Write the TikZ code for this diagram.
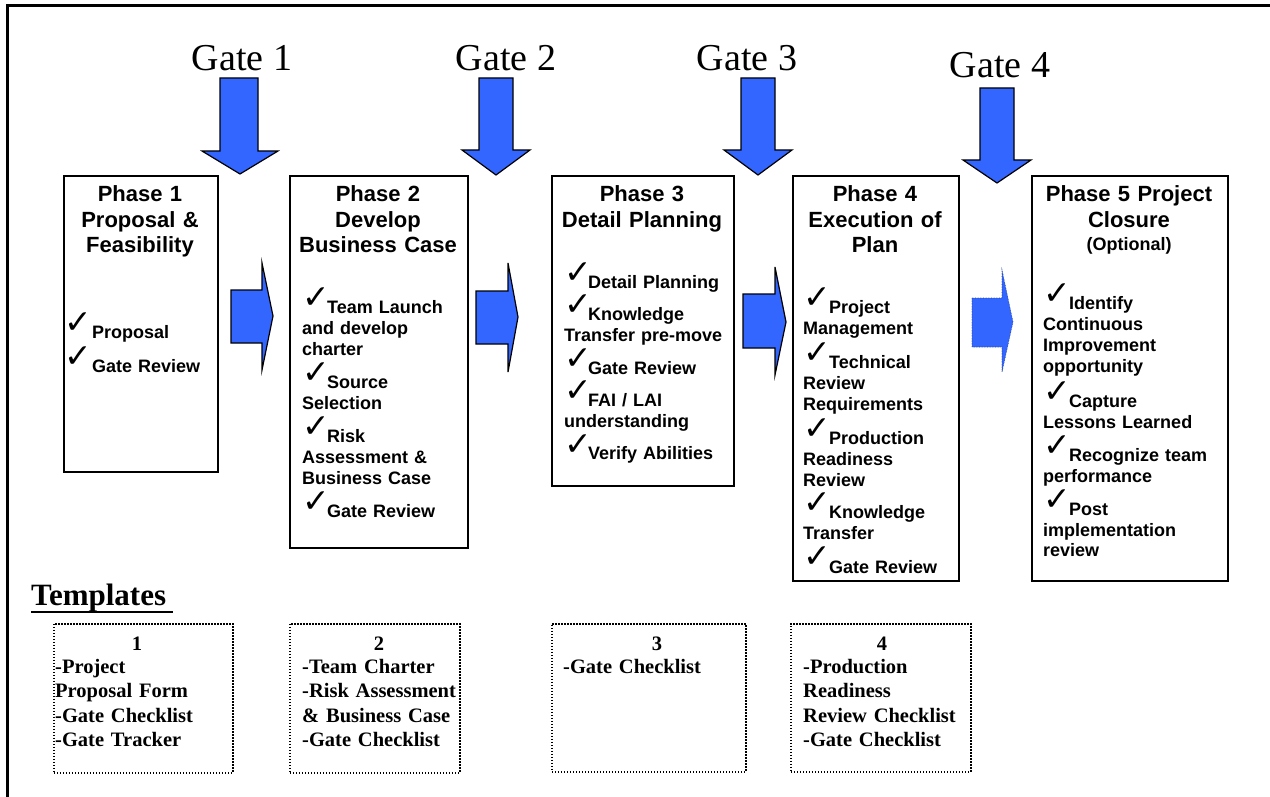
\documentclass[tikz,border=0pt]{standalone}
\usepackage{fontspec}
\setmainfont{Liberation Serif}
\newfontfamily\arialf{Liberation Sans}
\newfontfamily\dejavuf{DejaVu Sans}
\definecolor{gateblue}{RGB}{51,102,255}
\newcommand{\mycheck}[1][24pt]{\makebox[#1][l]{\smash{\raisebox{5pt}{\dejavuf\bfseries\fontsize{33}{33}\selectfont ✓}}}}
\tikzset{
  phasebox/.style={draw, line width=1.6pt, inner sep=0pt, anchor=north west},
  phasetitle/.style={font=\arialf\bfseries\fontsize{22}{25.5}\selectfont, text width=#1, align=center, anchor=base, inner sep=0pt},
  phaseitems/.style={font=\arialf\bfseries\fontsize{18}{21}\selectfont, text width=#1, align=left, anchor=base west, inner sep=0pt},
  gatelabel/.style={font=\fontsize{38}{40}\selectfont, anchor=base, inner sep=0pt},
  blockarrow/.style={fill=gateblue, draw=black, line width=1.2pt, line join=miter},
  tplbox/.style={draw, line width=1.8pt, dash pattern=on 1.5pt off 1.5pt, inner sep=0pt, anchor=north west},
  tplnum/.style={font=\bfseries\fontsize{20.5}{24.5}\selectfont, anchor=base, inner sep=0pt},
  tpltext/.style={font=\bfseries\fontsize{20.5}{24.5}\selectfont, text width=#1, align=left, anchor=base west, inner sep=0pt}
}
\begin{document}
\begin{tikzpicture}[x=1pt,y=-1pt]
\useasboundingbox (0,0) rectangle (1270,797);
% frame
\draw[line width=3pt] (7,797) -- (7,6) -- (1270,6);

% gate labels
\node[gatelabel] (g1) at (242,71) {Gate 1};
\node[gatelabel] (g2) at (506,71) {Gate 2};
\node[gatelabel] (g3) at (747,71) {Gate 3};
\node[gatelabel] (g4) at (1000,78) {Gate 4};

% gate arrows
\draw[blockarrow] (220,78) -- (258,78) -- (258,151) -- (278,151) -- (240,174) -- (202,151) -- (220,151) -- cycle;
\draw[blockarrow] (479,78) -- (513,78) -- (513,150) -- (530,150) -- (496,175) -- (462,150) -- (479,150) -- cycle;
\draw[blockarrow] (741,78) -- (775,78) -- (775,150) -- (792,150) -- (758,175) -- (724,150) -- (741,150) -- cycle;
\draw[blockarrow] (980,88) -- (1014,88) -- (1014,160) -- (1031,160) -- (997,183) -- (963,160) -- (980,160) -- cycle;

% phase boxes
\node[phasebox, minimum width=154pt, minimum height=296pt] (p1) at (63,175) {};
\node[phasebox, minimum width=178pt, minimum height=372pt] (p2) at (289,175) {};
\node[phasebox, minimum width=182pt, minimum height=310pt] (p3) at (551,175) {};
\node[phasebox, minimum width=166pt, minimum height=405pt] (p4) at (792,175) {};
\node[phasebox, minimum width=196pt, minimum height=405pt] (p5) at (1031,175) {};

% titles
\node[phasetitle=150pt] (t1) at (140,202) {Phase 1\\Proposal \&\\Feasibility};
\node[phasetitle=174pt] (t2) at (378,202) {Phase 2\\Develop\\Business Case};
\node[phasetitle=178pt] (t3) at (642,202) {Phase 3\\Detail Planning};
\node[phasetitle=162pt] (t4) at (875,202) {Phase 4\\Execution of\\Plan};
\node[phasetitle=192pt] (t5) at (1129,202) {Phase 5 Project\\Closure};
\node[font=\arialf\bfseries\fontsize{18}{20}\selectfont, anchor=base, inner sep=0pt] (t5o) at (1129,250) {(Optional)};

% items
\node[phaseitems=150pt] (i1) at (64,338) {\mycheck[28pt]Proposal\\[13pt]\mycheck[28pt]Gate Review};
\node[phaseitems=162pt] (i2) at (302,313) {\mycheck[25pt]Team Launch\\and develop\\charter\\[12pt]\mycheck[25pt]Source\\Selection\\[12pt]\mycheck[25pt]Risk\\Assessment \&\\Business Case\\[12pt]\mycheck[25pt]Gate Review};
\node[phaseitems=172pt] (i3) at (564,288) {\mycheck Detail Planning\\[11pt]\mycheck Knowledge\\Transfer pre-move\\[12pt]\mycheck Gate Review\\[11pt]\mycheck FAI / LAI\\understanding\\[12pt]\mycheck Verify Abilities};
\node[phaseitems=155pt] (i4) at (803,313) {\mycheck[26pt]Project\\Management\\[13pt]\mycheck[26pt]Technical\\Review\\Requirements\\[13pt]\mycheck[26pt]Production\\Readiness\\Review\\[11pt]\mycheck[26pt]Knowledge\\Transfer\\[13pt]\mycheck[26pt]Gate Review};
\node[phaseitems=180pt] (i5) at (1043,309) {\mycheck[26pt]Identify\\Continuous\\Improvement\\opportunity\\[14pt]\mycheck[26pt]Capture\\Lessons Learned\\[12pt]\mycheck[26pt]Recognize team\\performance\\[12pt]\mycheck[26pt]Post\\implementation\\review};

% phase-to-phase arrows
\draw[blockarrow] (231,290) -- (262,290) -- (262,263) -- (273,316) -- (262,370) -- (262,343) -- (231,343) -- cycle;
\draw[blockarrow] (476,291) -- (508,291) -- (508,263) -- (518,317) -- (508,372) -- (508,344) -- (476,344) -- cycle;
\draw[blockarrow] (743,294) -- (775,294) -- (775,267) -- (786,322) -- (775,375) -- (775,348) -- (743,348) -- cycle;
\draw[fill=gateblue, draw=gateblue!60!black, line width=0.6pt, densely dotted] (972,298) -- (1002,298) -- (1002,270) -- (1013,322) -- (1002,372) -- (1002,347) -- (972,347) -- cycle;

% templates
\node[font=\bfseries\fontsize{31}{33}\selectfont, anchor=base west, inner sep=0pt] (tpl) at (31,605) {Templates};
\draw[line width=2.4pt] (31,612) -- (173,612);

\node[tplbox, minimum width=179pt, minimum height=149pt] (b1) at (53,623) {};
\node[tplbox, minimum width=170pt, minimum height=149pt] (b2) at (289,623) {};
\node[tplbox, minimum width=194pt, minimum height=148pt] (b3) at (551,623) {};
\node[tplbox, minimum width=180pt, minimum height=148pt] (b4) at (790,623) {};

\node[tplnum] (n1) at (137,650) {1};
\node[tplnum] (n2) at (379,650) {2};
\node[tplnum] (n3) at (657,650) {3};
\node[tplnum] (n4) at (882,650) {4};

\node[tpltext=176pt] (x1) at (55,673) {-Project\\Proposal Form\\-Gate Checklist\\-Gate Tracker};
\node[tpltext=160pt] (x2) at (302,673) {-Team Charter\\-Risk Assessment\\\& Business Case\\-Gate Checklist};
\node[tpltext=180pt] (x3) at (563,673) {-Gate Checklist};
\node[tpltext=165pt] (x4) at (803,673) {-Production\\Readiness\\Review Checklist\\-Gate Checklist};
\end{tikzpicture}
\end{document}
